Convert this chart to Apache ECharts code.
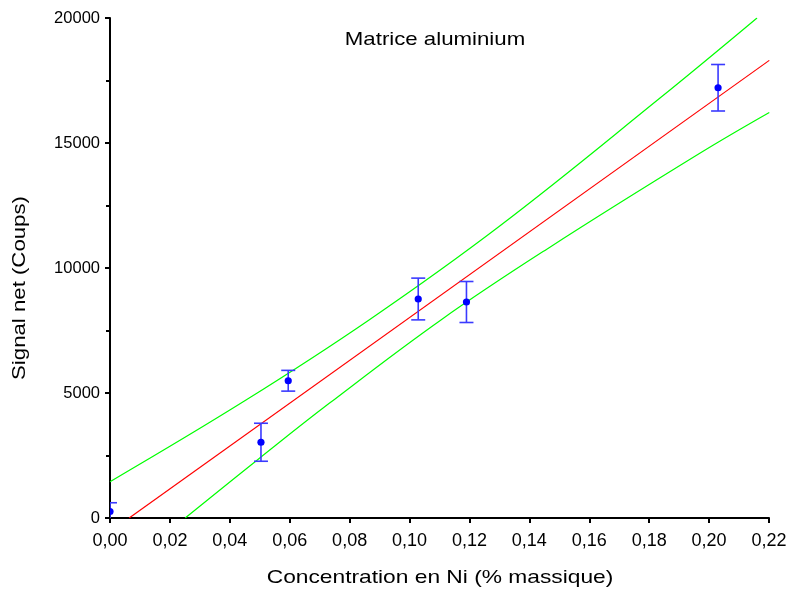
<!DOCTYPE html>
<html>
<head>
<meta charset="utf-8">
<script src="https://cdn.jsdelivr.net/npm/echarts@6/dist/echarts.min.js"></script>
<style>html,body{margin:0;padding:0;background:#fff}#c{width:791px;height:595px}</style>
</head>
<body>
<div id="c"></div>
<script>
// ---- data ----
var xTicks = [0, 0.02, 0.04, 0.06, 0.08, 0.10, 0.12, 0.14, 0.16, 0.18, 0.20, 0.22];
var yTicks = [0, 5000, 10000, 15000, 20000];
var concX = [0, 0.0504, 0.0595, 0.1029, 0.1190, 0.2030];
var signalY = [260, 3030, 5490, 8760, 8640, 17210];
var signalErr = [350, 760, 415, 835, 820, 930];
var fitX = [0.0064, 0.2201];
var fitY = [0, 18305];
var upperX = [0, 0.0454, 0.0866, 0.1301, 0.1833, 0.2160];
var upperY = [1454, 4719, 7932, 11680, 16767, 20000];
var lowerX = [0.0251, 0.0498, 0.0732, 0.1106, 0.1457, 0.1969, 0.2201];
var lowerY = [0, 2380, 4586, 7932, 10743, 14586, 16217];
var titleText = 'Matrice aluminium';
var xName = 'Concentration en Ni (% massique)';
var yName = 'Signal net (Coups)';

function zip(a, b) { return a.map(function (v, i) { return [v, b[i]]; }); }
var pts = concX.map(function (x, i) { return [x, signalY[i], signalErr[i]]; });

var chart = echarts.init(document.getElementById('c'), null, {renderer: 'canvas'});
var FONT = '"Liberation Sans", Arial, sans-serif';
chart.setOption({
  animation: false,
  backgroundColor: '#fff',
  grid: {left: 110, right: 22, top: 18, bottom: 77, containLabel: false},
  xAxis: {
    type: 'value', min: 0, max: 0.22, interval: 0.02,
    axisLine: {show: true, onZero: false, lineStyle: {color: '#000', width: 2}},
    axisTick: {show: true, inside: false, length: 5, lineStyle: {color: '#000', width: 2}},
    splitLine: {show: false},
    axisLabel: {color: '#000', fontSize: 18, fontFamily: FONT, margin: 14,
      formatter: function (v) { return v.toFixed(2).replace('.', ','); }}
  },
  yAxis: {
    type: 'value', min: 0, max: 20000, interval: 5000,
    axisLine: {show: true, onZero: false, lineStyle: {color: '#000', width: 2}},
    axisTick: {show: true, inside: false, length: 5, lineStyle: {color: '#000', width: 2}},
    minorTick: {show: true, splitNumber: 2, length: 4, lineStyle: {color: '#000', width: 2}},
    splitLine: {show: false},
    axisLabel: {color: '#000', fontSize: 16.5, fontFamily: FONT, margin: 10,
      formatter: function (v) { return String(v); }}
  },
  graphic: [
    {type: 'text', x: 435, y: 40, scaleX: 1.17, z: 10,
      style: {text: titleText, font: '19px ' + FONT, fill: '#000', align: 'center', verticalAlign: 'middle'}},
    {type: 'text', x: 440, y: 578, scaleX: 1.23, z: 10,
      style: {text: xName, font: '18.5px ' + FONT, fill: '#000', align: 'center', verticalAlign: 'middle'}},
    {type: 'text', x: 20, y: 288, rotation: Math.PI / 2, scaleX: 1.2, z: 10,
      style: {text: yName, font: '18.5px ' + FONT, fill: '#000', align: 'center', verticalAlign: 'middle'}}
  ],
  series: [
    {type: 'line', data: zip(upperX, upperY), smooth: 0.4, symbol: 'none', clip: true,
      lineStyle: {color: '#00ff00', width: 1.2}},
    {type: 'line', data: zip(lowerX, lowerY), smooth: 0.4, symbol: 'none', clip: true,
      lineStyle: {color: '#00ff00', width: 1.2}},
    {type: 'line', data: zip(fitX, fitY), symbol: 'none', clip: true,
      lineStyle: {color: '#ff0000', width: 1.2}},
    {type: 'custom', data: pts, clip: true, z: 5,
      renderItem: function (params, api) {
        var x = api.value(0), y = api.value(1), e = api.value(2);
        var top = api.coord([x, y + e]);
        var bot = api.coord([x, y - e]);
        var c = api.coord([x, y]);
        var hw = 7;
        var barStyle = {stroke: '#3a3aff', lineWidth: 1.6};
        return {
          type: 'group',
          children: [
            {type: 'line', shape: {x1: top[0], y1: top[1], x2: bot[0], y2: bot[1]}, style: barStyle},
            {type: 'line', shape: {x1: top[0] - hw, y1: top[1], x2: top[0] + hw, y2: top[1]}, style: barStyle},
            {type: 'line', shape: {x1: bot[0] - hw, y1: bot[1], x2: bot[0] + hw, y2: bot[1]}, style: barStyle},
            {type: 'circle', shape: {cx: c[0], cy: c[1], r: 3.6}, style: {fill: '#0000ff'}}
          ]
        };
      }}
  ]
});
</script>
</body>
</html>
